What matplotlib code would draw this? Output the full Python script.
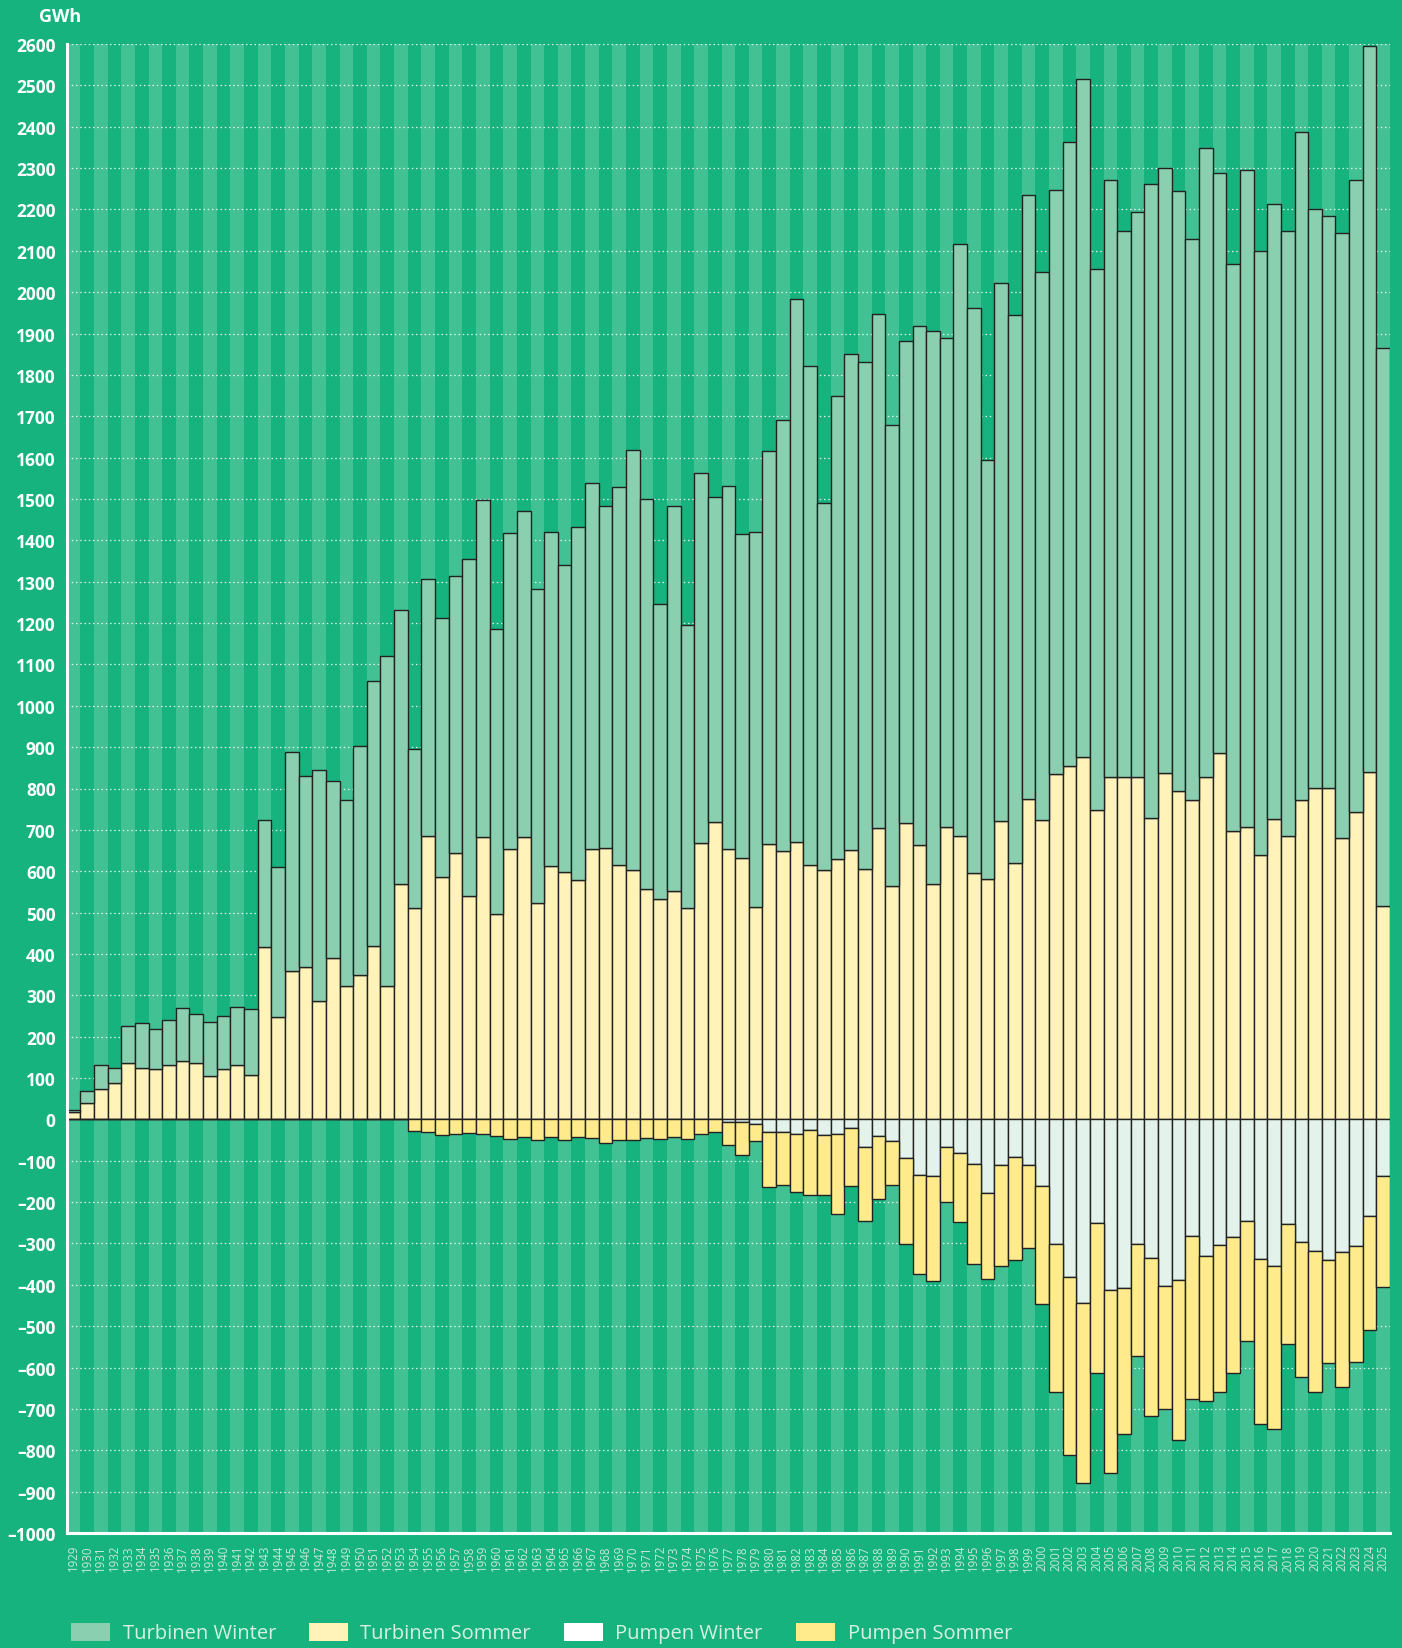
import matplotlib
matplotlib.use("Agg")
import matplotlib.pyplot as plt
from matplotlib import font_manager
from matplotlib.patches import Rectangle

# ---------------- data ----------------
years = list(range(1929, 2026))

turbinen_sommer = [18, 39, 73, 87, 136, 124, 122, 131, 140, 136, 105, 122, 132, 107,
                   417, 248, 359, 369, 286, 389, 322, 350, 420, 322, 570, 511, 685, 585,
                   644, 540, 682, 497, 654, 682, 522, 613, 598, 579, 654, 655, 616, 602,
                   556, 532, 552, 512, 668, 719, 654, 633, 514, 665, 649, 670, 614, 603,
                   629, 651, 606, 705, 565, 716, 664, 568, 708, 684, 595, 580, 722, 621,
                   775, 723, 834, 854, 877, 748, 827, 829, 827, 728, 838, 793, 771, 829,
                   887, 698, 708, 639, 727, 686, 771, 801, 802, 681, 744, 840, 517]

turbinen_winter = [5, 29, 58, 37, 90, 108, 97, 110, 130, 119, 131, 129, 139, 161,
                   308, 363, 530, 461, 559, 428, 449, 553, 641, 798, 662, 384, 622, 627,
                   669, 816, 815, 689, 764, 788, 761, 808, 742, 853, 885, 828, 913, 1016,
                   945, 715, 931, 683, 895, 785, 878, 782, 905, 951, 1043, 1313, 1207, 887,
                   1121, 1199, 1224, 1242, 1115, 1166, 1253, 1337, 1181, 1433, 1366, 1015, 1300, 1323,
                   1461, 1326, 1414, 1508, 1639, 1307, 1444, 1320, 1367, 1534, 1463, 1451, 1357, 1519,
                   1400, 1371, 1587, 1460, 1486, 1463, 1616, 1400, 1382, 1461, 1527, 1756, 1347]

pumpen_winter = [0] * 48 + [-7, -6, -11, -31, -31, -35, -25, -38, -36, -22, -67, -41, -53,
                            -94, -134, -137, -67, -81, -107, -179, -110, -90, -110, -162,
                            -301, -381, -444, -250, -413, -407, -301, -334, -403, -389, -283,
                            -331, -304, -285, -246, -338, -354, -254, -296, -318, -341, -321,
                            -306, -234, -136]

pumpen_sommer = [0] * 25 + [-27, -31, -38, -35, -33, -36, -41, -48, -43, -49, -43, -49, -42,
                            -46, -56, -51, -51, -46, -48, -43, -48, -36, -31,
                            -55, -79, -42, -132, -127, -140, -158, -145, -192, -138, -179,
                            -151, -106, -208, -239, -253, -132, -166, -242, -208, -244, -251,
                            -200, -285, -358, -430, -436, -363, -441, -354, -271, -384, -298,
                            -386, -394, -350, -355, -329, -291, -399, -394, -289, -326, -340,
                            -249, -326, -281, -274, -270]

legend_labels = ["Turbinen Winter", "Turbinen Sommer", "Pumpen Winter", "Pumpen Sommer"]
y_ticks = list(range(-1000, 2601, 100))

# ---------------- style ----------------
BG = "#17B37E"
STRIPE = "#42C194"
C_TW = "#8ACFAF"
C_TS = "#FFF3B9"
C_PW = "#E3F2EA"
C_PS = "#FFEB8B"
EDGE = "#222222"
LEG_TXT = "#D6F1E4"
XT_TXT = "#C4EBD9"

names = {f.name for f in font_manager.fontManager.ttflist}
has_narrow = "Liberation Sans Narrow" in names
narrow = "Liberation Sans Narrow" if has_narrow else "Open Sans"
main_font = "Open Sans" if "Open Sans" in names else "DejaVu Sans"

W, H = 1402, 1649
fig = plt.figure(figsize=(W / 100, H / 100), dpi=100, facecolor=BG)
L, R, T, B = 66.7, 1390, 45, 1534
ax = fig.add_axes([L / W, 1 - B / H, (R - L) / W, (B - T) / H])
ax.set_facecolor(BG)

n = len(years)
x = list(range(n))
for i in range(0, n, 2):
    ax.axvspan(i - 0.5, i + 0.5, color=STRIPE, lw=0, zorder=0)

ax.set_xlim(-0.5, n - 0.5)
ax.set_ylim(-1000, 2600)
ax.set_yticks(y_ticks)
ax.set_yticklabels([str(v).replace("-", "–") for v in y_ticks],
                   fontsize=12.5, fontweight="bold", color="white", family=main_font)
ax.tick_params(axis="y", length=0, pad=8)
ax.yaxis.grid(True, color="white", linestyle=(0, (1.2, 2.2)), linewidth=0.9, alpha=0.85)
ax.set_axisbelow(True)
for gl in ax.get_ygridlines():
    gl.set_zorder(0.5)

ax.set_xticks(x)
ax.set_xticklabels([str(y) for y in years], rotation=90,
                   fontsize=9.6 if has_narrow else 8.3,
                   color=XT_TXT, family=narrow)
ax.tick_params(axis="x", length=0, pad=8)

for s in ["top", "right"]:
    ax.spines[s].set_visible(False)
for s in ["left", "bottom"]:
    ax.spines[s].set_color("white")
    ax.spines[s].set_linewidth(2.2)
    ax.spines[s].set_zorder(3)

kw = dict(width=1.0, edgecolor=EDGE, linewidth=1.0, zorder=2)
ax.bar(x, turbinen_sommer, color=C_TS, **kw)
ax.bar(x, turbinen_winter, bottom=turbinen_sommer, color=C_TW, **kw)
ax.bar(x, pumpen_winter, color=C_PW, **kw)
ax.bar(x, pumpen_sommer, bottom=pumpen_winter, color=C_PS, **kw)

fig.text(39 / W, 1 - 8 / H, "GWh", fontsize=13, fontweight="bold", color="white",
         family=main_font, ha="left", va="top")

# legend
patch_x = [71, 309, 564, 796]
text_x = [123, 360, 615, 848]
leg_cols = [C_TW, C_TS, "#FFFFFF", C_PS]
for px, tx, col, lab in zip(patch_x, text_x, leg_cols, legend_labels):
    fig.patches.append(Rectangle((px / W, 1 - 1642 / H), 39 / W, 18 / H,
                                 transform=fig.transFigure, facecolor=col,
                                 edgecolor="none"))
    fig.text(tx / W, 1 - 1634 / H, lab, fontsize=17 if has_narrow else 14.5,
             color=LEG_TXT, family=narrow, ha="left", va="center")

fig.savefig("out.png", dpi=100, facecolor=BG)
